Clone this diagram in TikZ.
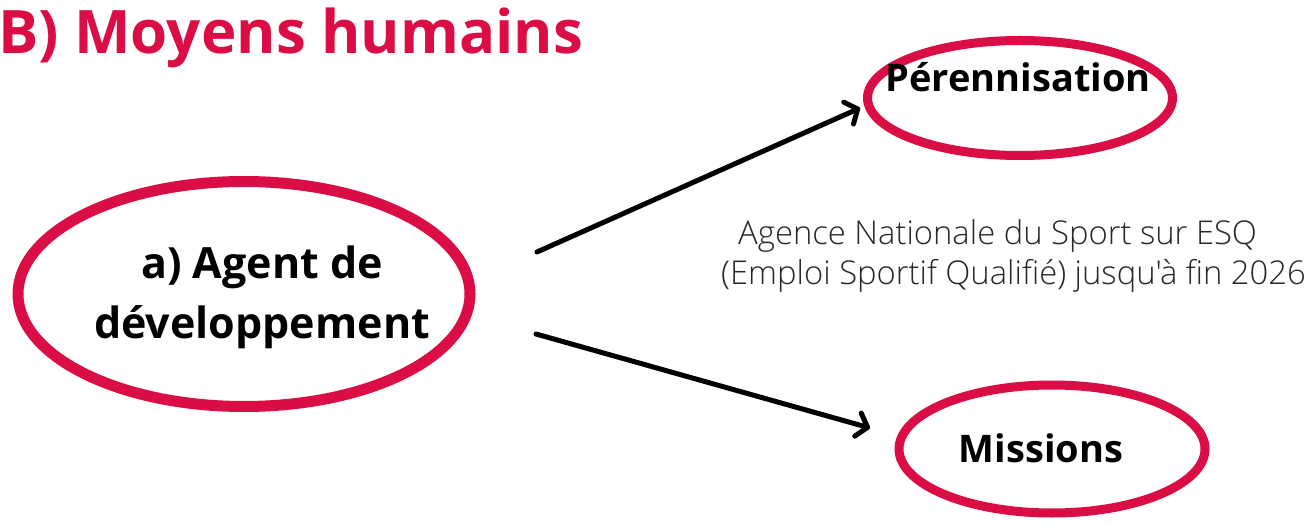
\documentclass[tikz,border=0pt]{standalone}
\usepackage{fontspec}
\setmainfont{Open Sans}
\newfontfamily\notefont{Open Sans Light}
\usetikzlibrary{shapes.geometric,arrows.meta}
\definecolor{crim}{RGB}{218,14,68}
\definecolor{txtgray}{RGB}{40,40,40}
\tikzset{
  oval/.style={ellipse, draw=crim, fill=white, inner sep=0pt},
  bigtext/.style={font=\fontsize{43}{59}\selectfont\bfseries, text=black, align=center},
  conn/.style={line width=5pt, line cap=round, -{Straight Barb[length=10pt,width=24pt,line cap=round,line join=round]}},
  note/.style={font=\notefont\fontsize{32.8}{36}\selectfont, text=txtgray, inner sep=0pt, anchor=base west}
}
\begin{document}
\begin{tikzpicture}[x=1pt,y=-1pt]
\useasboundingbox (0,0) rectangle (1311,526);
\node[font=\fontsize{60}{70}\selectfont\bfseries, text=crim, inner sep=0pt, anchor=base west] (title) at (-2,54) {B) Moyens humains};
\node[oval, line width=11pt, minimum width=452pt, minimum height=225pt] (agent) at (244,294) {};
\node[bigtext, inner sep=0pt, anchor=base] (agenttxt) at (262,338) {a) Agent de\\développement};
\node[oval, line width=9pt, minimum width=305pt, minimum height=115pt] (peren) at (1020,98) {};
\node[font=\fontsize{38}{46}\selectfont\bfseries, inner sep=0pt, anchor=base] (perentxt) at (1018,92) {Pérennisation};
\node[oval, line width=9pt, minimum width=306pt, minimum height=128pt] (miss) at (1052,449) {};
\node[font=\fontsize{38}{46}\selectfont\bfseries, inner sep=0pt, anchor=base] (misstxt) at (1041,462) {Missions};
\node[note] (anc1) at (738,245) {Agence Nationale du Sport sur ESQ};
\node[note] (anc2) at (721,285) {(Emploi Sportif Qualifié) jusqu'à fin 2026};
\coordinate (s1) at (537,252);
\coordinate (e1) at (860,108);
\coordinate (s2) at (536,334);
\coordinate (e2) at (870,428);
\draw[conn] (s1) -- (e1);
\draw[conn] (s2) -- (e2);
\end{tikzpicture}
\end{document}
